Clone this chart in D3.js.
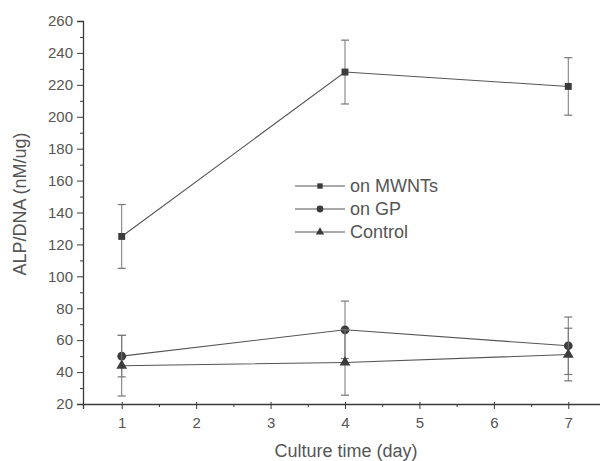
<!DOCTYPE html>
<html>
<head>
<meta charset="utf-8">
<script src="https://cdn.jsdelivr.net/npm/d3@7"></script>
<style>
  body { margin: 0; background: #fff; }
  text { font-family: Arial, "Liberation Sans", sans-serif; fill: #555; }
</style>
</head>
<body>
<div id="chart"></div>
<script>
// culture days
var days = [1, 4, 7];
// ALP/DNA means and errors
var mwnts = [125, 228, 219];
var mwntsErr = [20, 20, 18];
var gp = [50, 66.5, 56.5];
var gpErr = [13, 18, 18];
var control = [44, 46, 51];
var controlErr = [19, 20.5, 16.5];

var seriesNames = ["on MWNTs", "on GP", "Control"];
var xTicks = [1, 2, 3, 4, 5, 6, 7];
var yTicks = [20, 40, 60, 80, 100, 120, 140, 160, 180, 200, 220, 240, 260];

var W = 600, H = 461;
var axisCol = "#3a3a3a", lineCol = "#555", errCol = "#777", markCol = "#3c3c3c";

var svg = d3.select("#chart").append("svg")
    .attr("width", W)
    .attr("height", H);

var x = d3.scaleLinear().domain([0.48, 7.5]).range([83, 605.5]);
var y = d3.scaleLinear().domain([20, 260]).range([404, 21]);

// minor ticks
var xMinor = d3.range(1.5, 7.5, 1);
var yMinor = d3.range(30, 260, 20);

// X axis
var xa = svg.append("g")
    .attr("transform", "translate(0," + y(20) + ")")
    .call(d3.axisBottom(x).tickValues(xTicks).tickSize(5).tickPadding(8).tickFormat(d3.format("d")));
xa.select(".domain").attr("stroke", axisCol).attr("stroke-width", 1.3);
xa.selectAll(".tick line").attr("stroke", axisCol).attr("y1", -2);
xa.selectAll("text").style("font-size", "15px").attr("fill", "#555");

var xm = svg.append("g")
    .attr("transform", "translate(0," + y(20) + ")")
    .call(d3.axisBottom(x).tickValues(xMinor).tickSize(3).tickFormat(""));
xm.select(".domain").remove();
xm.selectAll(".tick line").attr("stroke", axisCol);

// Y axis
var ya = svg.append("g")
    .attr("transform", "translate(" + x(0.48) + ",0)")
    .call(d3.axisLeft(y).tickValues(yTicks).tickSize(6).tickPadding(4));
ya.select(".domain").attr("stroke", axisCol).attr("stroke-width", 1.3);
ya.selectAll(".tick line").attr("stroke", axisCol);
ya.selectAll("text").style("font-size", "15px").attr("fill", "#555");

var ym = svg.append("g")
    .attr("transform", "translate(" + x(0.48) + ",0)")
    .call(d3.axisLeft(y).tickValues(yMinor).tickSize(3).tickFormat(""));
ym.select(".domain").remove();
ym.selectAll(".tick line").attr("stroke", axisCol);

// axis titles
svg.append("text")
    .attr("x", 346).attr("y", 457)
    .attr("text-anchor", "middle")
    .style("font-size", "18px")
    .text("Culture time (day)");

svg.append("text")
    .attr("transform", "translate(26,204) rotate(-90)")
    .attr("text-anchor", "middle")
    .style("font-size", "18px")
    .text("ALP/DNA (nM/ug)");

var series = [
  { name: seriesNames[0], vals: mwnts, err: mwntsErr, sym: d3.symbolSquare, size: 48 },
  { name: seriesNames[1], vals: gp, err: gpErr, sym: d3.symbolCircle, size: 60 },
  { name: seriesNames[2], vals: control, err: controlErr, sym: d3.symbolTriangle, size: 50 }
];

var line = d3.line()
    .x(function (d) { return x(d.day); })
    .y(function (d) { return y(d.v); });

series.forEach(function (s) {
  var pts = days.map(function (d, i) { return { day: d, v: s.vals[i], e: s.err[i] }; });
  var g = svg.append("g");

  // error bars
  pts.forEach(function (p) {
    g.append("line")
      .attr("x1", x(p.day)).attr("x2", x(p.day))
      .attr("y1", y(p.v - p.e)).attr("y2", y(p.v + p.e))
      .attr("stroke", errCol).attr("stroke-width", 1);
    [p.v - p.e, p.v + p.e].forEach(function (c) {
      g.append("line")
        .attr("x1", x(p.day) - 4).attr("x2", x(p.day) + 4)
        .attr("y1", y(c)).attr("y2", y(c))
        .attr("stroke", errCol).attr("stroke-width", 1.2);
    });
  });

  g.append("path")
    .datum(pts)
    .attr("fill", "none")
    .attr("stroke", lineCol)
    .attr("stroke-width", 1.1)
    .attr("d", line);

  g.selectAll(".m")
    .data(pts)
    .enter().append("path")
    .attr("transform", function (d) { return "translate(" + x(d.day) + "," + y(d.v) + ")"; })
    .attr("d", d3.symbol().type(s.sym).size(s.size))
    .attr("fill", markCol);
});

// legend
var leg = svg.append("g");
series.forEach(function (s, i) {
  var ly = 186 + i * 23;
  leg.append("line")
    .attr("x1", 295).attr("x2", 345)
    .attr("y1", ly).attr("y2", ly)
    .attr("stroke", lineCol).attr("stroke-width", 1.1);
  leg.append("path")
    .attr("transform", "translate(320," + ly + ")")
    .attr("d", d3.symbol().type(s.sym).size(s.size * 0.6))
    .attr("fill", markCol);
  leg.append("text")
    .attr("x", 350).attr("y", ly + 6)
    .style("font-size", "18px")
    .text(s.name);
});
</script>
</body>
</html>
